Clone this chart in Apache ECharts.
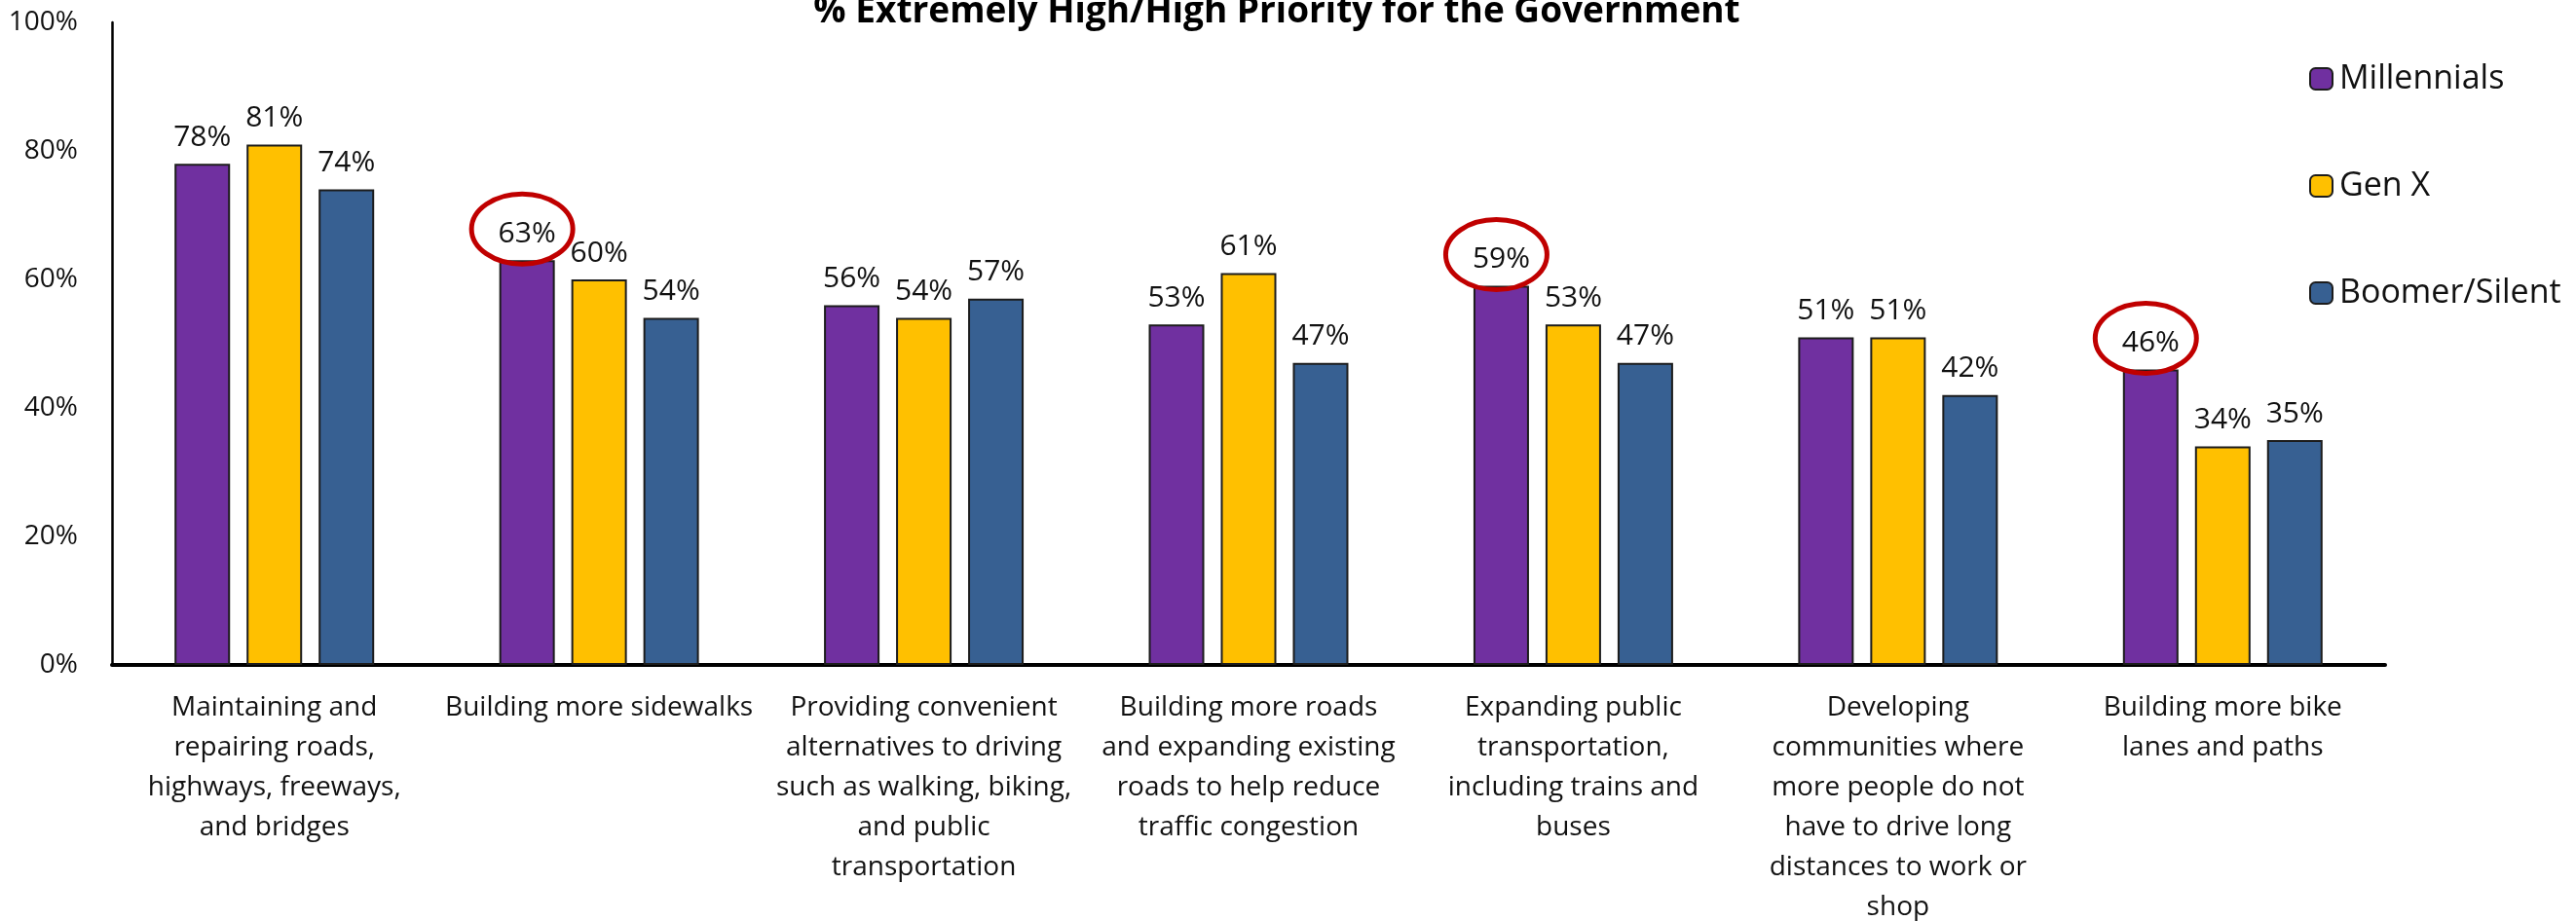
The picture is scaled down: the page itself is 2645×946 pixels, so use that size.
<!DOCTYPE html>
<html>
<head>
<meta charset="utf-8">
<title>% Extremely High/High Priority for the Government</title>
<script src="https://cdn.jsdelivr.net/npm/echarts@6/dist/echarts.min.js"></script>
<style>
  html, body { margin: 0; padding: 0; background: #ffffff; }
  #chart { width: 2645px; height: 946px; }
</style>
</head>
<body>
<div id="chart"></div>
<script>
// Survey items (axis categories, wrapped as printed)
const categories = [
  'Maintaining and\nrepairing roads,\nhighways, freeways,\nand bridges',
  'Building more sidewalks',
  'Providing convenient\nalternatives to driving\nsuch as walking, biking,\nand public\ntransportation',
  'Building more roads\nand expanding existing\nroads to help reduce\ntraffic congestion',
  'Expanding public\ntransportation,\nincluding trains and\nbuses',
  'Developing\ncommunities where\nmore people do not\nhave to drive long\ndistances to work or\nshop',
  'Building more bike\nlanes and paths'
];

// Share rating each item an extremely high / high priority (%)
const millennials = [78, 63, 56, 53, 59, 51, 46];
const genX        = [81, 60, 54, 61, 53, 51, 34];
const boomer      = [74, 54, 57, 47, 47, 42, 35];

const seriesNames = ['Millennials', 'Gen X', 'Boomer/Silent'];

// Millennial values that are called out with a red ring
const circledMillennials = [1, 4, 6];

// Y axis ticks (%)
const yTicks = [0, 20, 40, 60, 80, 100];

const TITLE = '% Extremely High/High Priority for the Government';

const FONT = '"Open Sans", "Noto Sans", sans-serif';
const BAR_W = 57;
const BAR_GAP = 17;

const chart = echarts.init(document.getElementById('chart'), null, { renderer: 'canvas' });

function barSeries(name, values, color) {
  return {
    name: name,
    type: 'bar',
    data: values,
    barWidth: BAR_W,
    barGap: (BAR_GAP / BAR_W * 100).toFixed(1) + '%',
    itemStyle: { color: color, borderColor: '#1c1c1c', borderWidth: 2 },
    label: {
      show: true,
      position: 'top',
      distance: 12,
      formatter: '{c}%',
      color: '#111111',
      fontFamily: FONT,
      fontSize: 30
    },
    emphasis: { disabled: true }
  };
}

const option = {
  animation: false,
  backgroundColor: '#ffffff',
  graphic: [{
    type: 'text',
    x: 1311,
    y: 31,
    style: {
      text: TITLE,
      x: 0,
      y: 0,
      fill: '#000000',
      font: 'bold 37px ' + FONT,
      textAlign: 'center',
      textVerticalAlign: 'bottom'
    }
  }],
  legend: {
    data: seriesNames,
    orient: 'vertical',
    left: 2366,
    top: 59,
    itemWidth: 23,
    itemHeight: 22,
    itemGap: 76,
    selectedMode: false,
    textStyle: { fontFamily: FONT, fontSize: 34, color: '#111111', lineHeight: 34, padding: [0, 0, 0, 2] }
  },
  grid: { left: 115, right: 196, top: 23, bottom: 263, containLabel: false, outerBoundsMode: 'none' },
  xAxis: {
    type: 'category',
    data: categories,
    axisTick: { show: false },
    axisLine: { show: true, lineStyle: { color: '#000000', width: 4 } },
    axisLabel: {
      interval: 0,
      margin: 24,
      color: '#111111',
      fontFamily: FONT,
      fontSize: 28,
      lineHeight: 41,
      align: 'center'
    }
  },
  yAxis: {
    type: 'value',
    min: yTicks[0],
    max: yTicks[yTicks.length - 1],
    interval: yTicks[1] - yTicks[0],
    splitLine: { show: false },
    axisTick: { show: false },
    axisLine: { show: true, lineStyle: { color: '#000000', width: 2.5 } },
    axisLabel: {
      formatter: '{value}%',
      margin: 35,
      color: '#111111',
      fontFamily: FONT,
      fontSize: 28
    }
  },
  series: [
    barSeries(seriesNames[0], millennials, '#7030A0'),
    barSeries(seriesNames[1], genX, '#FFC000'),
    barSeries(seriesNames[2], boomer, '#376092'),
    {
      // red rings around selected Millennial value labels
      type: 'custom',
      silent: true,
      z: 10,
      data: circledMillennials.map(i => [i, millennials[i]]),
      renderItem: function (params, api) {
        const p = api.coord([api.value(0), api.value(1)]);
        const cx = p[0] - (BAR_W + BAR_GAP) - 5;
        const cy = p[1] - 32;
        return {
          type: 'ellipse',
          shape: { cx: cx, cy: cy, rx: 52, ry: 36 },
          style: { fill: 'none', stroke: '#C00000', lineWidth: 5 }
        };
      }
    }
  ]
};

chart.setOption(option);
</script>
</body>
</html>
